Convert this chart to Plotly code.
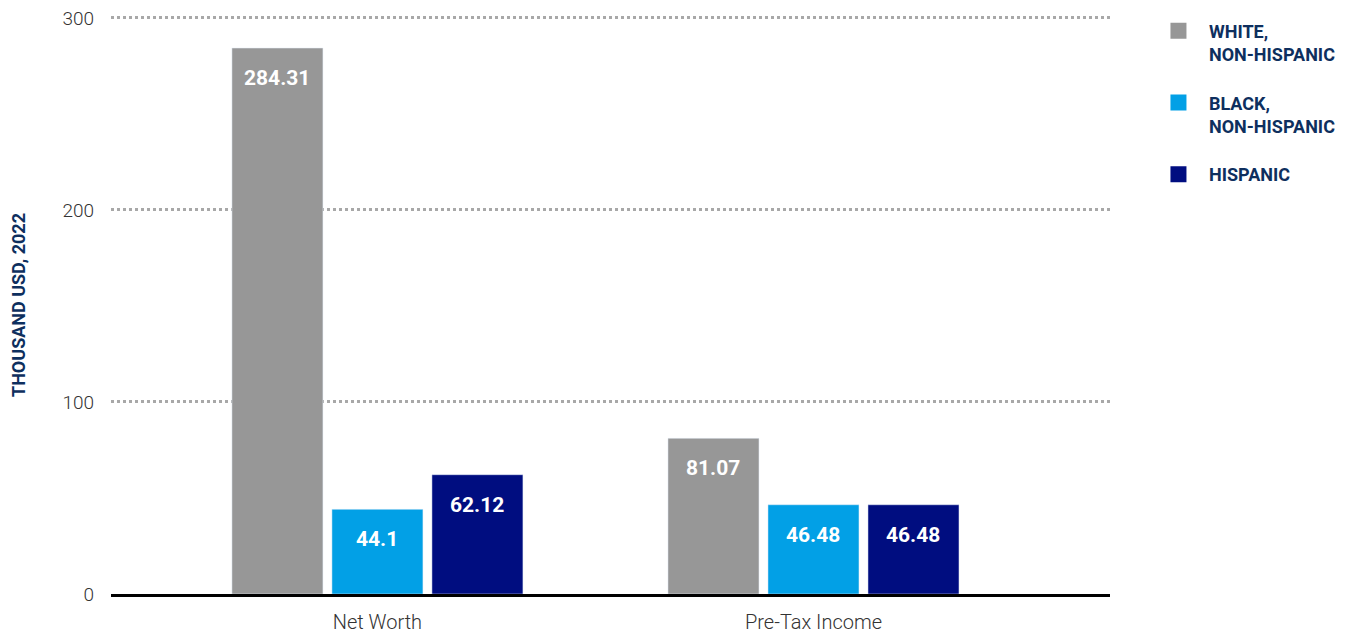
import plotly.graph_objects as go

categories = ["Net Worth", "Pre-Tax Income"]
series_names = ["WHITE,<br>NON-HISPANIC", "BLACK,<br>NON-HISPANIC", "HISPANIC"]
white_vals = [284.31, 81.07]
black_vals = [44.1, 46.48]
hispanic_vals = [62.12, 46.48]
colors = ["#979797", "#02A0E6", "#000D80"]
y_ticks = [0, 100, 200, 300]

BOLD = "Roboto"
NAVY = "#0E2F5E"

fig = go.Figure()
all_vals = [white_vals, black_vals, hispanic_vals]
n = len(all_vals)
slot_px = 100  # px per bar slot within a group
for i, (name, vals, col) in enumerate(zip(series_names, all_vals, colors)):
    fig.add_trace(go.Bar(
        x=categories, y=vals, name=name, marker_color=col,
        showlegend=False, hoverinfo="x+y",
    ))
    # legend proxy with bigger square symbol
    fig.add_trace(go.Scatter(
        x=[None], y=[None], mode="markers", name=name,
        marker=dict(symbol="square", size=16, color=col),
        legendgroup=f"g{i}", showlegend=True,
    ))
    for c, v in zip(categories, vals):
        fig.add_annotation(
            x=c, y=v, xref="x", yref="y", text=f"{v:g}", showarrow=False,
            xshift=(i - (n - 1) / 2) * slot_px, yshift=-30,
            font=dict(family=BOLD, size=21, color="white", weight=700),
        )

fig.update_layout(
    width=1340, height=625,
    margin=dict(l=103, r=238, t=5, b=39),
    plot_bgcolor="white", paper_bgcolor="white",
    barmode="group", bargap=0.312, bargroupgap=0.09,
    legend=dict(
        x=1.038, y=1.006, xanchor="left", yanchor="top", valign="top",
        font=dict(family=BOLD, size=18, color=NAVY, weight=700),
        traceorder="grouped", tracegroupgap=22, itemwidth=51,
    ),
    xaxis=dict(
        range=[-0.611, 1.68], automargin=False,
        showline=True, linecolor="black", linewidth=3,
        ticks="", tickfont=dict(family="Roboto", size=20, color="#333333", weight=300),
        ticklabelstandoff=8,
        showgrid=False,
    ),
    yaxis=dict(
        range=[0, 301], tickvals=y_ticks, automargin=False,
        ticklabeloverflow="allow",
        showgrid=True, gridcolor="#A8A8A8", gridwidth=3, griddash="dot",
        zeroline=False, showline=False, ticks="",
        tickfont=dict(family="Roboto", size=19, color="#333333", weight=300),
        ticklabelstandoff=16,
        title=dict(text="THOUSAND USD, 2022",
                   font=dict(family=BOLD, size=18, color=NAVY, weight=700),
                   standoff=50),
    ),
)

fig.write_html("out.html")
